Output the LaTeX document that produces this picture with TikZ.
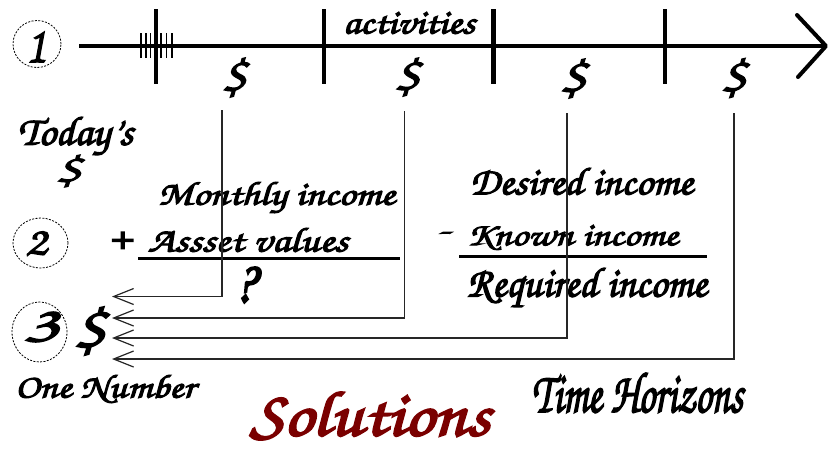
\documentclass[tikz,border=0pt]{standalone}
\usepackage{graphicx}
\usetikzlibrary{arrows.meta,shapes.geometric}
\definecolor{solred}{HTML}{7A0000}
\definecolor{connc}{HTML}{262626}
\font\chorb="[texgyrechorus-mediumitalic.otf]:embolden=3" at 20pt
\newcommand\zc{\chorb}
\newcommand\fitt[3]{\resizebox*{#1pt}{#2pt}{\zc #3}}
\tikzset{
  lbl/.style={inner sep=0pt, outer sep=0pt},
  numc/.style={ellipse, draw, dash pattern=on 2pt off 1.4pt, line width=0.8pt, inner sep=0pt},
  axisline/.style={line width=4.5pt},
  axishead/.style={line width=4pt, line join=round, line cap=round},
  majortick/.style={line width=4.5pt},
  minortick/.style={line width=1.3pt},
  conn/.style={line width=1.3pt, draw=connc, -{Straight Barb[length=20pt,width=16pt,line width=1.2pt]}},
  fracbar/.style={line width=3pt}
}
\begin{document}
\begin{tikzpicture}[x=1pt,y=-1pt]
\useasboundingbox (0,0) rectangle (830,451);
% time line
\coordinate (t0) at (79,46);
\coordinate (t1) at (826,46);
\coordinate (h1) at (797,15);
\coordinate (h2) at (798,77);
\draw[axisline] (t0) -- (t1);
\draw[axishead] (h1) -- (t1) -- (h2);
\foreach \x in {156,324,493.5,665} \draw[majortick] (\x,9) -- (\x,84);
\foreach \x in {141,146,150.5,161,166.5,172} \draw[minortick] (\x,33) -- (\x,58);
% numbered circles
\node[numc, minimum width=48pt, minimum height=47pt] (c1) at (37,44) {};
\node[lbl] (n1) at (36,47) {\fitt{18}{30}{1}};
\node[numc, minimum width=55pt, minimum height=50pt] (c2) at (40.5,243) {};
\node[lbl] (n2) at (36,243.5) {\fitt{22}{24}{2}};
\node[numc, minimum width=55pt, minimum height=60pt] (c3) at (39.5,332) {};
\node[lbl] (n3) at (41,327) {\fitt{35}{30}{3}};
% timeline labels
\node[lbl] (act) at (409,23) {\fitt{132}{22}{activities}};
\node[lbl] (d1) at (234.5,77.5) {\fitt{27}{39}{\$}};
\node[lbl] (d2) at (407.5,77) {\fitt{28}{38}{\$}};
\node[lbl] (d3) at (573.5,78.5) {\fitt{29}{39}{\$}};
\node[lbl] (d4) at (734,78) {\fitt{28}{39}{\$}};
% left texts
\node[lbl] (today) at (75.5,136) {\fitt{115}{38}{Today’s}};
\node[lbl] (tdol) at (69,171) {\fitt{28}{32}{\$}};
\node[lbl] (bigdol) at (90,331) {\fitt{35}{48}{\$}};
\node[lbl] (onen) at (105,389) {\fitt{180}{28}{One Number}};
% equation 2, first part
\node[lbl] (plus) at (120,241) {\fitt{24}{18}{+}};
\node[lbl] (mi) at (276.5,197.5) {\fitt{237}{31}{Monthly income}};
\node[lbl] (av) at (248,240) {\fitt{200}{24}{Assset values}};
\coordinate (b1a) at (138,258);
\coordinate (b1b) at (400,258);
\draw[fracbar] (b1a) -- (b1b);
\node[lbl] (qm) at (245,285) {\fitt{20}{36}{?}};
% equation 2, second part
\node[lbl] (di) at (581.5,181.5) {\fitt{223}{27}{Desired income}};
\node[lbl] (mn) at (442,235) {\fitt{18}{6}{-}};
\node[lbl] (ki) at (572.5,237.5) {\fitt{211}{25}{Known income}};
\coordinate (b2a) at (459,256);
\coordinate (b2b) at (707,256);
\draw[fracbar] (b2a) -- (b2b);
\node[lbl] (ri) at (587,287.5) {\fitt{240}{39}{Required income}};
% bottom labels
\node[lbl] (th) at (637.5,393) {\fitt{211}{40}{Time Horizons}};
\node[lbl, text=solred] (sol) at (370,416) {\fitt{240}{48}{Solutions}};
% connectors
\coordinate (s1) at (222,110);
\coordinate (e1) at (112,296.5);
\coordinate (s2) at (404.5,111);
\coordinate (e2) at (112,318);
\coordinate (s3) at (567,113);
\coordinate (e3) at (112,338);
\coordinate (s4) at (734,113);
\coordinate (e4) at (112,359);
\draw[conn] (s1) |- (e1);
\draw[conn] (s2) |- (e2);
\draw[conn] (s3) |- (e3);
\draw[conn] (s4) |- (e4);
\end{tikzpicture}
\end{document}
